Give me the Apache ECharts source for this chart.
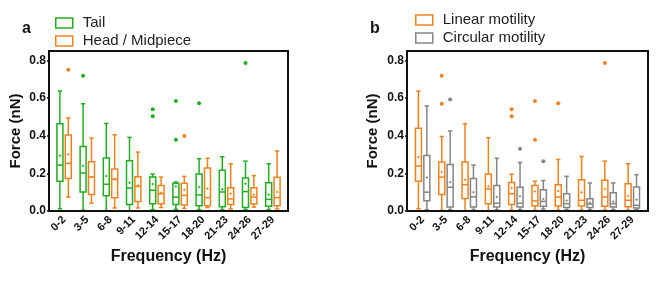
<!DOCTYPE html>
<html>
<head>
<meta charset="utf-8">
<script src="https://cdn.jsdelivr.net/npm/echarts@6/dist/echarts.min.js"></script>
<style>
  html, body { margin: 0; padding: 0; background: #fff; }
  #chart { width: 669px; height: 284px; }
</style>
</head>
<body>
<div id="chart"></div>
<script>
const FONT = '"Liberation Sans", Arial, sans-serif';
const categories = ['0-2', '3-5', '6-8', '9-11', '12-14', '15-17', '18-20', '21-23', '24-26', '27-29'];

// [low, q1, median, q3, high, mean]
const tailBox = [
  [0.012, 0.158, 0.244, 0.464, 0.637, 0.294],
  [0.004, 0.101, 0.202, 0.343, 0.570, 0.240],
  [0.002, 0.081, 0.142, 0.281, 0.465, 0.186],
  [0.002, 0.034, 0.122, 0.267, 0.391, 0.150],
  [0.007, 0.039, 0.110, 0.180, 0.196, 0.143],
  [0.009, 0.034, 0.074, 0.147, 0.154, 0.130],
  [0.007, 0.028, 0.085, 0.196, 0.278, 0.127],
  [0.007, 0.023, 0.101, 0.216, 0.288, 0.115],
  [0.007, 0.019, 0.103, 0.175, 0.265, 0.145],
  [0.007, 0.025, 0.062, 0.150, 0.251, 0.087],
];
const tailOut = [[1, 0.719], [4, 0.540], [4, 0.503], [5, 0.584], [5, 0.379], [6, 0.573], [8, 0.786]];

const headBox = [
  [0.074, 0.173, 0.253, 0.404, 0.494, 0.301],
  [0.042, 0.087, 0.181, 0.262, 0.388, 0.180],
  [0.016, 0.071, 0.168, 0.223, 0.405, 0.170],
  [0.016, 0.050, 0.131, 0.182, 0.313, 0.136],
  [0.018, 0.039, 0.092, 0.136, 0.180, 0.097],
  [0.014, 0.032, 0.083, 0.147, 0.184, 0.113],
  [0.018, 0.028, 0.071, 0.228, 0.280, 0.119],
  [0.011, 0.035, 0.064, 0.124, 0.251, 0.092],
  [0.021, 0.037, 0.074, 0.124, 0.188, 0.087],
  [0.011, 0.028, 0.071, 0.179, 0.319, 0.101],
];
const headOut = [[0, 0.750], [5, 0.398]];

const linearBox = [
  [0.012, 0.158, 0.239, 0.440, 0.637, 0.287],
  [0.004, 0.087, 0.180, 0.260, 0.396, 0.207],
  [0.002, 0.067, 0.140, 0.260, 0.464, 0.166],
  [0.002, 0.039, 0.117, 0.196, 0.389, 0.131],
  [0.004, 0.034, 0.092, 0.152, 0.195, 0.122],
  [0.004, 0.027, 0.053, 0.136, 0.158, 0.104],
  [0.004, 0.027, 0.074, 0.140, 0.274, 0.106],
  [0.004, 0.027, 0.057, 0.166, 0.290, 0.099],
  [0.004, 0.025, 0.074, 0.163, 0.265, 0.117],
  [0.004, 0.023, 0.057, 0.145, 0.251, 0.080],
];
const linearOut = [[1, 0.719], [1, 0.570], [4, 0.540], [4, 0.504], [5, 0.584], [5, 0.379], [6, 0.573], [8, 0.786]];

const circularBox = [
  [0.007, 0.055, 0.100, 0.295, 0.558, 0.178],
  [0.007, 0.021, 0.126, 0.247, 0.425, 0.153],
  [0.007, 0.021, 0.075, 0.173, 0.244, 0.100],
  [0.007, 0.021, 0.041, 0.135, 0.280, 0.075],
  [0.007, 0.021, 0.041, 0.126, 0.258, 0.078],
  [0.010, 0.025, 0.051, 0.113, 0.162, 0.064],
  [0.007, 0.018, 0.039, 0.092, 0.184, 0.055],
  [0.007, 0.018, 0.037, 0.065, 0.149, 0.044],
  [0.007, 0.021, 0.039, 0.097, 0.149, 0.050],
  [0.007, 0.016, 0.030, 0.127, 0.193, 0.060],
];
const circularOut = [[1, 0.592], [4, 0.331], [5, 0.264]];

const C_GREEN = '#22ad22';
const C_ORANGE = '#f0821e';
const C_GRAY = '#858585';

const BOX_W = 6;
const OFFSET = 4.2;

function boxSeries(name, boxes, color, grid, side) {
  return {
    name, type: 'custom', xAxisIndex: grid, yAxisIndex: grid,
    data: boxes.map((b, i) => [i, ...b]),
    encode: { x: 0, y: [1, 2, 3, 4, 5, 6] },
    renderItem: (params, api) => {
      const i = api.value(0);
      const cx = api.coord([i, 0])[0] + side * OFFSET;
      const y = k => api.coord([i, api.value(k)])[1];
      const [yLow, yQ1, yMed, yQ3, yHigh, yMean] = [1, 2, 3, 4, 5, 6].map(y);
      const st = { stroke: color, lineWidth: 1.5, fill: null };
      const hw = BOX_W / 2;
      const cap = 2.2;
      return {
        type: 'group',
        children: [
          { type: 'line', shape: { x1: cx, y1: yLow, x2: cx, y2: yQ1 }, style: st },
          { type: 'line', shape: { x1: cx, y1: yQ3, x2: cx, y2: yHigh }, style: st },
          { type: 'line', shape: { x1: cx - cap, y1: yLow, x2: cx + cap, y2: yLow }, style: st },
          { type: 'line', shape: { x1: cx - cap, y1: yHigh, x2: cx + cap, y2: yHigh }, style: st },
          { type: 'rect', shape: { x: cx - hw, y: yQ3, width: BOX_W, height: yQ1 - yQ3 }, style: { stroke: color, lineWidth: 1.5, fill: '#fff' } },
          { type: 'line', shape: { x1: cx - hw, y1: yMed, x2: cx + hw, y2: yMed }, style: st },
          { type: 'line', shape: { x1: cx - 1.2, y1: yMean, x2: cx + 1.2, y2: yMean }, style: { stroke: color, lineWidth: 1 } },
          { type: 'line', shape: { x1: cx, y1: yMean - 1.2, x2: cx, y2: yMean + 1.2 }, style: { stroke: color, lineWidth: 1 } },
        ],
      };
    },
  };
}

function outlierSeries(name, pts, color, grid, side) {
  return {
    name, type: 'custom', xAxisIndex: grid, yAxisIndex: grid,
    data: pts,
    encode: { x: 0, y: 1 },
    renderItem: (params, api) => {
      const p = api.coord([api.value(0), api.value(1)]);
      return { type: 'circle', shape: { cx: p[0] + side * OFFSET, cy: p[1], r: 2 }, style: { fill: color } };
    },
  };
}

function xAxis(grid) {
  return {
    type: 'category', gridIndex: grid, data: categories, boundaryGap: true,
    name: 'Frequency (Hz)', nameLocation: 'middle', nameGap: 36,
    nameTextStyle: { fontFamily: FONT, fontWeight: 'bold', fontSize: 16, color: '#111' },
    axisLine: { show: false },
    axisTick: { show: false },
    axisLabel: { rotate: 45, margin: 7, fontFamily: FONT, fontWeight: 'bold', fontSize: 11, color: '#111', interval: 0 },
  };
}

function yAxis(grid, gap, offset) {
  return {
    type: 'value', gridIndex: grid, min: 0, max: 0.85, interval: 0.2, offset,
    name: 'Force (nN)', nameLocation: 'middle', nameRotate: 90, nameGap: gap,
    nameTextStyle: { fontFamily: FONT, fontWeight: 'bold', fontSize: 15, color: '#111' },
    axisLine: { show: false },
    axisTick: { show: true, length: 2, lineStyle: { color: '#111', width: 1.5 } },
    axisLabel: { showMaxLabel: false, margin: 3, fontFamily: FONT, fontWeight: 'bold', fontSize: 12, color: '#111', formatter: v => v.toFixed(1) },
    splitLine: { show: false },
  };
}

function legendItem(name, color) {
  return { name, icon: 'rect', itemStyle: { color: '#fff', borderColor: color, borderWidth: 1.5 } };
}

const legendText = { fontFamily: FONT, fontSize: 15, color: '#222', lineHeight: 18, padding: [0, 0, 0, 5] };

const chart = echarts.init(document.getElementById('chart'), null, { renderer: 'canvas' });
chart.setOption({
  animation: false,
  title: [
    { text: 'a', left: 17, top: 16, textStyle: { fontFamily: FONT, fontWeight: 'bold', fontSize: 16, color: '#111' } },
    { text: 'b', left: 365, top: 16, textStyle: { fontFamily: FONT, fontWeight: 'bold', fontSize: 16, color: '#111' } },
  ],
  legend: [
    {
      left: 55, top: 14, padding: 0, orient: 'vertical', itemWidth: 17, itemHeight: 10, itemGap: 0,
      textStyle: legendText,
      data: [legendItem('Tail', C_GREEN), legendItem('Head / Midpiece', C_ORANGE)],
    },
    {
      left: 415, top: 11, padding: 0, orient: 'vertical', itemWidth: 17, itemHeight: 10, itemGap: 0,
      textStyle: legendText,
      data: [legendItem('Linear motility', C_ORANGE), legendItem('Circular motility', C_GRAY)],
    },
  ],
  // frames around both plot areas
  graphic: [
    { type: 'rect', shape: { x: 49, y: 51, width: 239, height: 160 }, style: { fill: null, stroke: '#111', lineWidth: 2 }, z: 10 },
    { type: 'rect', shape: { x: 407, y: 51, width: 241, height: 160 }, style: { fill: null, stroke: '#111', lineWidth: 2 }, z: 10 },
  ],
  grid: [
    { left: 52.5, right: 384.5, top: 51, bottom: 73 },
    { left: 411, right: 25, top: 51, bottom: 73 },
  ],
  xAxis: [xAxis(0), xAxis(1)],
  yAxis: [yAxis(0, 26, 3.5), yAxis(1, 27, 4)],
  series: [
    boxSeries('Tail', tailBox, C_GREEN, 0, -1),
    boxSeries('Head / Midpiece', headBox, C_ORANGE, 0, 1),
    outlierSeries('Tail', tailOut, C_GREEN, 0, -1),
    outlierSeries('Head / Midpiece', headOut, C_ORANGE, 0, 1),
    boxSeries('Linear motility', linearBox, C_ORANGE, 1, -1),
    boxSeries('Circular motility', circularBox, C_GRAY, 1, 1),
    outlierSeries('Linear motility', linearOut, C_ORANGE, 1, -1),
    outlierSeries('Circular motility', circularOut, C_GRAY, 1, 1),
  ],
});
</script>
</body>
</html>
